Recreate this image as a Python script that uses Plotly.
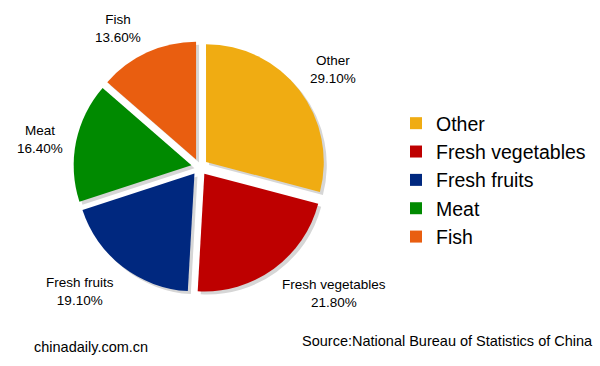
import math
import plotly.graph_objects as go

categories = ["Other", "Fresh vegetables", "Fresh fruits", "Meat", "Fish"]
shares = [29.10, 21.80, 19.10, 16.40, 13.60]
colors = ["#F0AC12", "#BE0000", "#00287F", "#008A00", "#E95E10"]

W, H = 600, 366
cx, cy, half = 199.5, 167, 126
pull = 0.07
label_dist = 137
label_size = 13.5

def dom(dx=0, dy=0):
    x0 = (cx + dx - half) / W
    x1 = (cx + dx + half) / W
    y0 = (H - (cy + dy) - half) / H
    y1 = (H - (cy + dy) + half) / H
    return dict(x=[x0, x1], y=[y0, y1])

fig = go.Figure()
fig.add_trace(go.Pie(
    labels=categories, values=shares, sort=False, direction="clockwise", rotation=0,
    pull=pull, domain=dom(3, 3), marker=dict(colors=["#d6d6d6"] * 5, line=dict(width=0)),
    textinfo="none", hoverinfo="skip", showlegend=False,
))
fig.add_trace(go.Pie(
    labels=categories, values=shares, sort=False, direction="clockwise", rotation=0,
    pull=pull, domain=dom(), marker=dict(colors=colors, line=dict(width=0)),
    textinfo="none", showlegend=True,
))

# outside-end labels positioned from the slice mid-angles
annotations = []
total = sum(shares)
cum = 0.0
for name, v in zip(categories, shares):
    mid = (cum + v / 2) / total * 2 * math.pi
    cum += v
    s, c = math.sin(mid), -math.cos(mid)
    px = cx + label_dist * s
    py = cy + label_dist * c
    xa = "left" if s > 0 else "right"
    if c < -0.3:
        ya, ys = "bottom", -5
    elif c > 0.3:
        ya, ys = "top", 3
    else:
        ya, ys = "middle", 0
    annotations.append(dict(
        text=f"{name}<br>{v:.2f}%", x=px / W, y=1 - py / H, xref="paper", yref="paper",
        xanchor=xa, yanchor=ya, yshift=ys, align="center", showarrow=False,
        font=dict(size=label_size, color="#000000"),
    ))

annotations += [
    dict(text="chinadaily.com.cn", x=32 / W, y=1 - 347 / H, xref="paper", yref="paper",
         xanchor="left", yanchor="middle", showarrow=False, font=dict(size=14.5)),
    dict(text="Source:National Bureau of Statistics of China", x=595 / W, y=1 - 341 / H,
         xref="paper", yref="paper", xanchor="right", yanchor="middle", showarrow=False,
         font=dict(size=14.5)),
]

fig.update_layout(
    width=W, height=H, margin=dict(l=0, r=0, t=0, b=0),
    paper_bgcolor="white", plot_bgcolor="white",
    font=dict(family="Liberation Sans, Arial", color="#000000"),
    legend=dict(x=0.66, y=1 - 180 / H, xanchor="left", yanchor="middle",
                font=dict(size=19.5, color="#000000"), itemsizing="constant"),
    annotations=annotations,
)
fig.write_html("out.html", config={"displayModeBar": False},
               post_script="document.body.style.margin='0px';document.body.style.overflow='hidden';")
